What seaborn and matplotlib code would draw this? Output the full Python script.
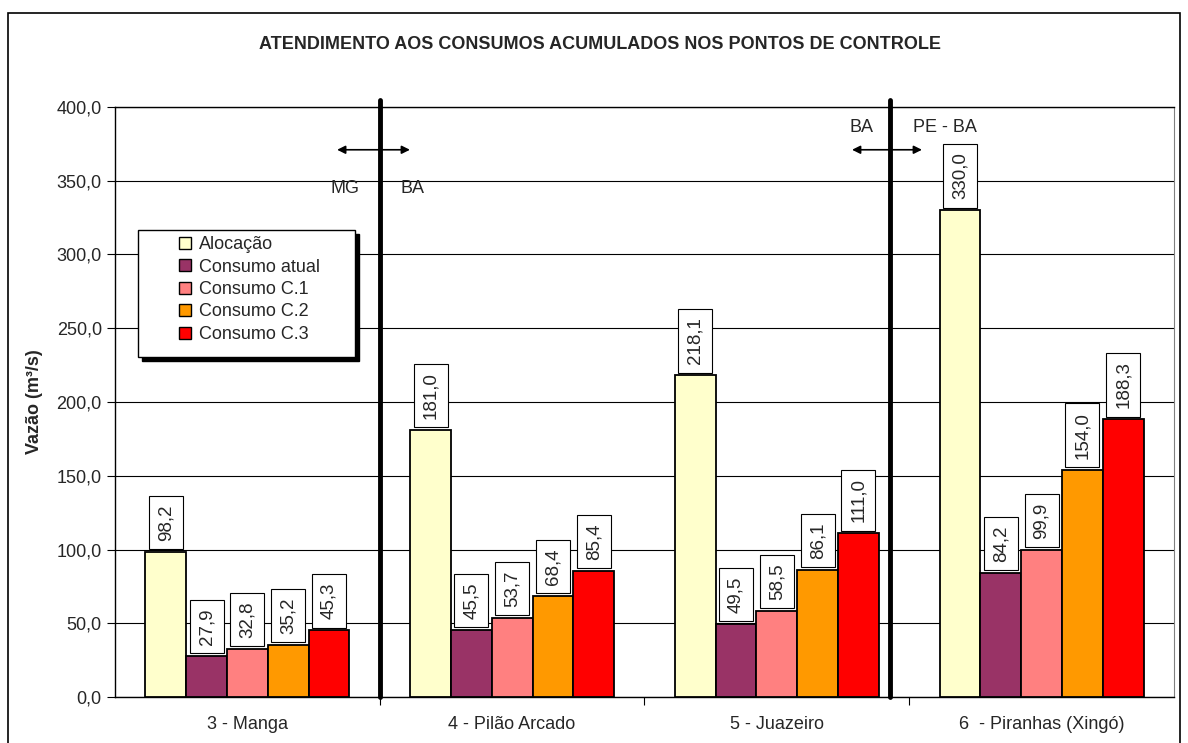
import pandas as pd
import seaborn as sns
import matplotlib.pyplot as plt
from matplotlib.patches import Rectangle

# Dados
pontos = ["3 - Manga", "4 - Pilão Arcado", "5 - Juazeiro", "6  - Piranhas (Xingó)"]
series = ["Alocação", "Consumo atual", "Consumo C.1", "Consumo C.2", "Consumo C.3"]
alocacao = [98.2, 181.0, 218.1, 330.0]
consumo_atual = [27.9, 45.5, 49.5, 84.2]
consumo_c1 = [32.8, 53.7, 58.5, 99.9]
consumo_c2 = [35.2, 68.4, 86.1, 154.0]
consumo_c3 = [45.3, 85.4, 111.0, 188.3]
cores = ["#FFFFCC", "#993366", "#FF8080", "#FF9900", "#FF0000"]

valores = [alocacao, consumo_atual, consumo_c1, consumo_c2, consumo_c3]
linhas = []
for s, vals in zip(series, valores):
    for p, v in zip(pontos, vals):
        linhas.append({"ponto": p, "serie": s, "vazao": v})
df = pd.DataFrame(linhas)

sns.set_style("white")
plt.rcParams["font.family"] = ["Liberation Sans", "DejaVu Sans"]
FS = 13

fig = plt.figure(figsize=(11.88, 7.43), dpi=100)
ax = fig.add_axes([0.0968, 0.0619, 0.8914, 0.7941])

sns.barplot(data=df, x="ponto", y="vazao", hue="serie", palette=cores,
            saturation=1, width=0.77, edgecolor="black", linewidth=1.3,
            ax=ax, zorder=3)

# rotulos das barras
for cont in ax.containers:
    for barra in cont:
        h = barra.get_height()
        ax.annotate(f"{h:.1f}".replace(".", ","),
                    (barra.get_x() + barra.get_width() / 2, h),
                    xytext=(0, 8), textcoords="offset points",
                    ha="center", va="bottom", rotation=90, fontsize=13.5,
                    bbox=dict(boxstyle="square,pad=0.45", fc="white",
                              ec="black", lw=0.8), zorder=5)

ax.set_ylim(0, 400)
ax.set_xlim(-0.5, 3.5)
ax.set_yticks(range(0, 401, 50))
ax.set_yticklabels([f"{v:.1f}".replace(".", ",") for v in range(0, 401, 50)], fontsize=FS)
ax.yaxis.grid(True, color="black", lw=0.8, zorder=0)
ax.tick_params(axis="y", left=True, length=6, width=0.8, color="black", direction="out")
ax.set_xticks(range(4))
ax.set_xticklabels(pontos, fontsize=FS)
ax.set_xticks([0.5, 1.5, 2.5], minor=True)
ax.tick_params(axis="x", which="major", length=0, pad=14)
ax.tick_params(axis="x", which="minor", bottom=True, length=6, width=0.8, color="black", direction="out")
ax.set_xlabel("")
ax.set_ylabel("Vazão (m³/s)", fontsize=FS, fontweight="bold", labelpad=10)
for lado in ["left", "bottom", "top"]:
    ax.spines[lado].set_color("black")
    ax.spines[lado].set_linewidth(1)
ax.spines["right"].set_color("gray")

# divisas entre estados
for xv in [0.5, 2.427]:
    ax.plot([xv, xv], [0, 405], color="black", lw=3.5, zorder=6, clip_on=False)
for x0, x1 in [(0.339, 0.614), (2.284, 2.548)]:
    ax.annotate("", xy=(x0, 371), xytext=(x1, 371),
                arrowprops=dict(arrowstyle="<|-|>", color="black", lw=1.2,
                                mutation_scale=12, shrinkA=0, shrinkB=0), zorder=7)
ax.text(0.369, 345, "MG", ha="center", va="center", fontsize=FS)
ax.text(0.622, 345, "BA", ha="center", va="center", fontsize=FS)
ax.text(2.32, 386, "BA", ha="center", va="center", fontsize=FS)
ax.text(2.635, 386, "PE - BA", ha="center", va="center", fontsize=FS)

# legenda com moldura e sombra
lx, ly, lw_, lh = 0.0217, 0.576, 0.2045, 0.2155
ax.add_patch(Rectangle((lx + 0.004, ly - 0.007), lw_, lh, transform=ax.transAxes,
                       fc="black", ec="black", zorder=7))
ax.add_patch(Rectangle((lx, ly), lw_, lh, transform=ax.transAxes,
                       fc="white", ec="black", lw=1, zorder=7.5))
leg = ax.legend(loc="upper left", bbox_to_anchor=(0.0604, 0.781), fontsize=FS,
                frameon=False, handlelength=0.65, handleheight=0.65,
                handletextpad=0.45, borderpad=0, labelspacing=0.3,
                borderaxespad=0)
leg.set_zorder(8)
for h in leg.legend_handles:
    h.set_edgecolor("black")
    h.set_linewidth(1)

fig.text(0.505, 0.94, "ATENDIMENTO AOS CONSUMOS ACUMULADOS NOS PONTOS DE CONTROLE",
         ha="center", va="center", fontsize=FS, fontweight="bold")

fig.patches.append(Rectangle((0.007, -0.01), 0.986, 0.993, transform=fig.transFigure,
                             fill=False, ec="black", lw=1.2))

fig.savefig("out.png", dpi=100)
plt.close()
